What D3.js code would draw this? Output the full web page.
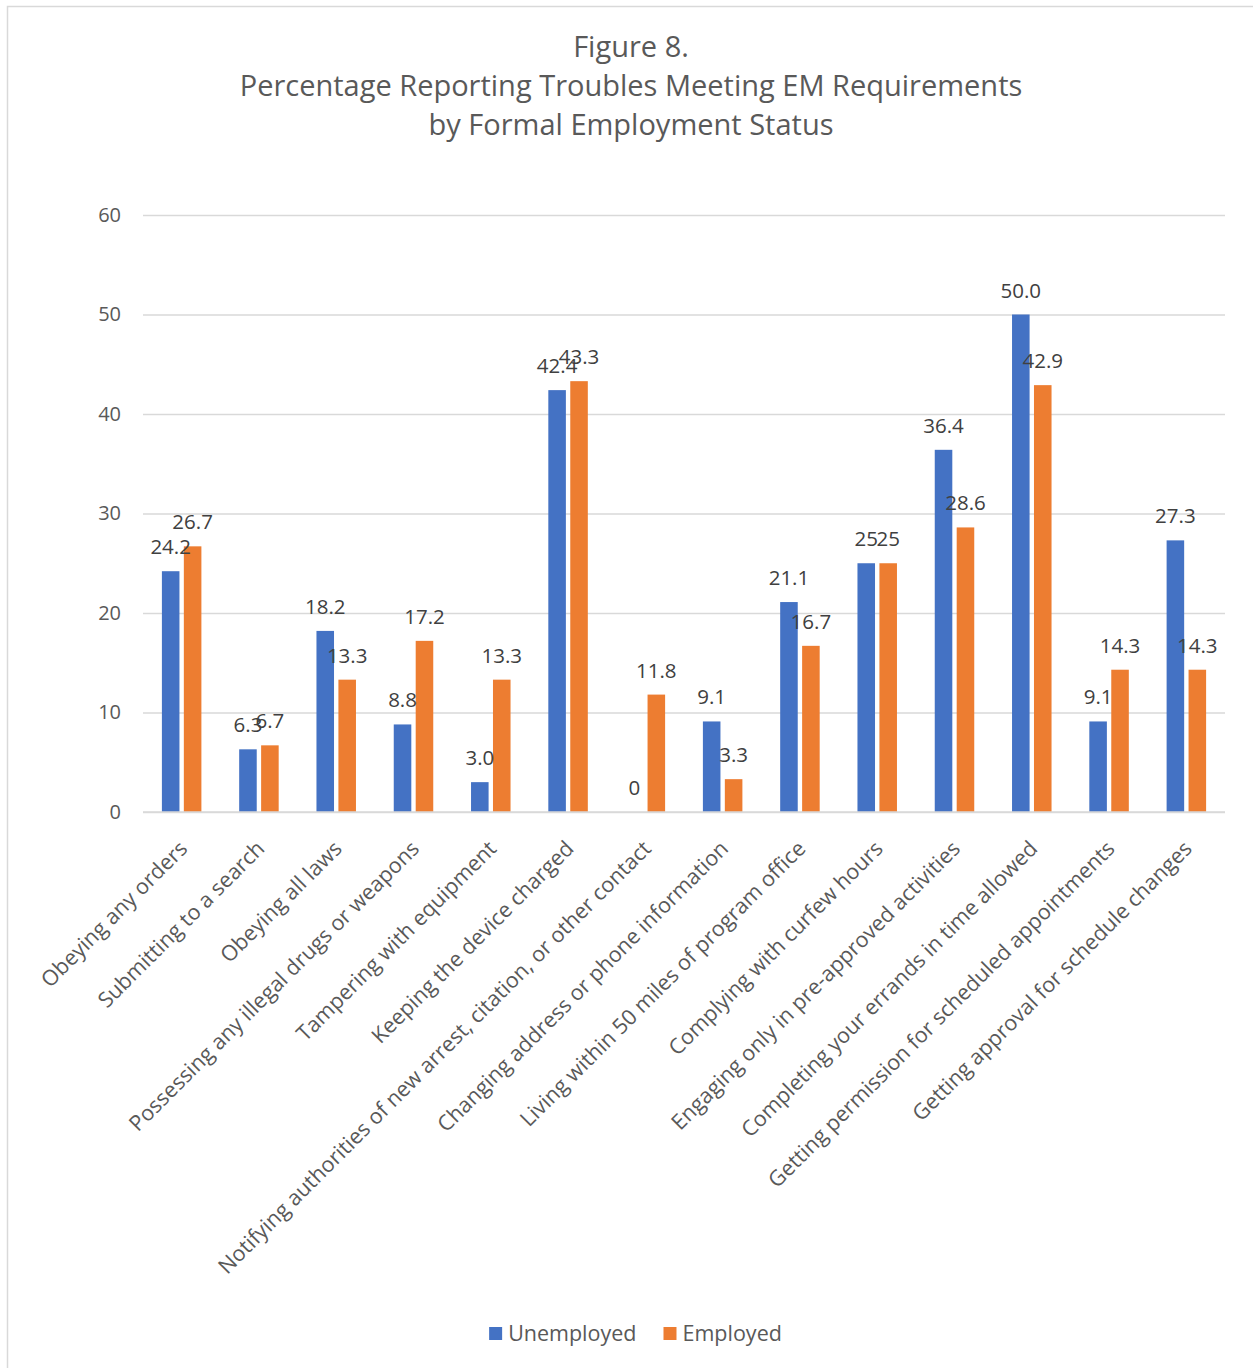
<!DOCTYPE html>
<html>
<head>
<meta charset="utf-8">
<script src="https://cdn.jsdelivr.net/npm/d3@7"></script>
<style>
  body { margin: 0; background: #fff; }
  svg { display: block; }
  text { font-family: "Open Sans", sans-serif; }
</style>
</head>
<body>
<div id="chart"></div>
<script>
// Requirement categories (x axis)
const categories = [
  "Obeying any orders",
  "Submitting to a search",
  "Obeying all laws",
  "Possessing any illegal drugs or weapons",
  "Tampering with equipment",
  "Keeping the device charged",
  "Notifying authorities of new arrest, citation, or other contact",
  "Changing address or phone information",
  "Living within 50 miles of program office",
  "Complying with curfew hours",
  "Engaging only in pre-approved activities",
  "Completing your errands in time allowed",
  "Getting permission for scheduled appointments",
  "Getting approval for schedule changes"
];

const seriesNames = ["Unemployed", "Employed"];

// Percentages as printed on the bars; bar heights are parsed from the same strings
const unemployedValues = ["24.2", "6.3", "18.2", "8.8", "3.0", "42.4", "0", "9.1", "21.1", "25", "36.4", "50.0", "9.1", "27.3"];
const employedValues   = ["26.7", "6.7", "13.3", "17.2", "13.3", "43.3", "11.8", "3.3", "16.7", "25", "28.6", "42.9", "14.3", "14.3"];

const yTicks = [0, 10, 20, 30, 40, 50, 60];

const titleLines = [
  "Figure 8.",
  "Percentage Reporting Troubles Meeting EM Requirements",
  "by Formal Employment Status"
];

const seriesColors = ["#4472C4", "#ED7D31"];

const W = 1253, H = 1368;
const plot = { left: 143, right: 1225, top: 215, bottom: 812 };

const svg = d3.select("#chart").append("svg")
  .attr("width", W).attr("height", H);

svg.append("rect").attr("width", W).attr("height", H).attr("fill", "#fff");

// chart frame (runs off the right and bottom edges)
svg.append("rect")
  .attr("x", 7.5).attr("y", 6.5)
  .attr("width", W + 20).attr("height", H + 20)
  .attr("fill", "none").attr("stroke", "#D9D9D9").attr("stroke-width", 1.5);

// title
svg.append("g").selectAll("text").data(titleLines).join("text")
  .attr("x", 631).attr("y", (d, i) => 57 + i * 39)
  .attr("text-anchor", "middle")
  .attr("font-size", 29)
  .attr("fill", "#595959")
  .text(d => d);

const rows = categories.map((c, i) => ({
  category: c,
  bars: [unemployedValues[i], employedValues[i]].map((s, k) => ({
    series: seriesNames[k], label: s, value: +s, k
  }))
}));

const y = d3.scaleLinear().domain([0, 60]).range([plot.bottom, plot.top]);
const x0 = d3.scaleBand().domain(categories).range([plot.left, plot.right]).padding(0);
const x1 = d3.scaleBand().domain(seriesNames).range([0, 39.5]).paddingInner(0.2);
const pairOffset = (x0.bandwidth() - 39.5) / 2;

// gridlines and value axis labels
const yAxis = d3.axisLeft(y).tickValues(yTicks).tickSize(-(plot.right - plot.left)).tickPadding(22).tickFormat(d3.format("d"));
const gy = svg.append("g").attr("transform", `translate(${plot.left},0)`).call(yAxis);
gy.select(".domain").remove();
gy.selectAll(".tick line").attr("stroke", "#D9D9D9").attr("stroke-width", 1.5);
gy.selectAll(".tick text")
  .attr("font-size", 20).attr("fill", "#595959")
  .style("font-family", "'Open Sans', sans-serif");

// bars
const groups = svg.append("g").selectAll("g").data(rows).join("g")
  .attr("transform", d => `translate(${x0(d.category) + pairOffset},0)`);

groups.selectAll("rect").data(d => d.bars).join("rect")
  .attr("x", d => x1(d.series))
  .attr("width", x1.bandwidth())
  .attr("y", d => y(d.value))
  .attr("height", d => y(0) - y(d.value))
  .attr("fill", d => seriesColors[d.k]);

// value labels
groups.selectAll("text").data(d => d.bars).join("text")
  .attr("x", d => x1(d.series) + x1.bandwidth() / 2)
  .attr("y", d => y(d.value) - 17)
  .attr("text-anchor", "middle")
  .attr("font-size", 20.5)
  .attr("fill", "#404040")
  .text(d => d.label);

// category axis baseline
svg.append("line")
  .attr("x1", plot.left).attr("x2", plot.right)
  .attr("y1", y(0)).attr("y2", y(0))
  .attr("stroke", "#D9D9D9").attr("stroke-width", 1.5);

// rotated category labels
svg.append("g").selectAll("text").data(categories).join("text")
  .attr("transform", d => `translate(${x0(d) + x0.bandwidth() / 2 + 7},850) rotate(-45)`)
  .attr("text-anchor", "end")
  .attr("font-size", 21.5)
  .attr("fill", "#595959")
  .text(d => d);

// legend
const legend = svg.append("g");
const items = legend.selectAll("g").data(seriesNames).join("g");
items.append("rect").attr("width", 13).attr("height", 13).attr("y", 1327)
  .attr("fill", (d, i) => seriesColors[i]);
items.append("text").attr("x", 19).attr("y", 1341)
  .attr("font-size", 21.5).attr("fill", "#595959").text(d => d);
let widths = [];
items.each(function () { widths.push(this.getBBox().width); });
const gap = 27;
const total = d3.sum(widths) + gap * (widths.length - 1);
let cursor = 635.5 - total / 2;
items.attr("transform", (d, i) => {
  const t = `translate(${cursor},0)`;
  cursor += widths[i] + gap;
  return t;
});
</script>
</body>
</html>
